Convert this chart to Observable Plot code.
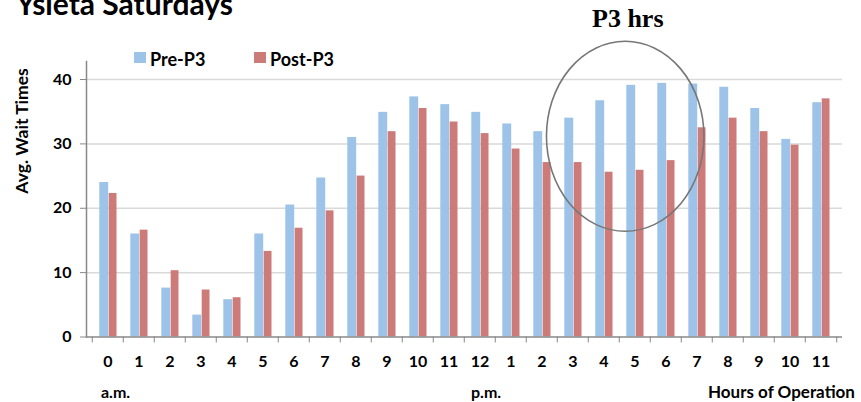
<!DOCTYPE html>
<html>
<head>
<meta charset="utf-8">
<script src="https://cdn.jsdelivr.net/npm/d3@7"></script>
<script src="https://cdn.jsdelivr.net/npm/@observablehq/plot@0.6"></script>
<style>
  body { margin: 0; background: #fff; }
  #wrap { position: relative; width: 861px; height: 402px; overflow: hidden; font-family: Lato, "Open Sans", sans-serif; font-weight: bold; color: #000; }
  #chart { position: absolute; left: 0; top: 0; }
  .lbl { position: absolute; white-space: nowrap; line-height: 1; }
  .sw { position: absolute; width: 12px; height: 11px; }
</style>
</head>
<body>
<div id="wrap">
  <div id="chart"></div>
  <div class="lbl" style="left:16px; top:-12px; font-size:30px;">Ysleta Saturdays</div>
  <div class="sw" id="sw0" style="left:134px; top:52px;"></div>
  <div class="lbl" id="lg0" style="left:150px; top:50px; font-size:18px;"></div>
  <div class="sw" id="sw1" style="left:254px; top:52px;"></div>
  <div class="lbl" id="lg1" style="left:270px; top:50px; font-size:18px;"></div>
  <div class="lbl" style="left:592px; top:6px; font-size:26px; font-family:'Liberation Serif', 'DejaVu Serif', serif;">P3 hrs</div>
  <div class="lbl" style="left:22px; top:131px; font-size:17.5px; transform: translate(-50%,-50%) rotate(-90deg);">Avg. Wait Times</div>
  <div class="lbl" style="left:101px; top:384px; font-size:16px;">a.m.</div>
  <div class="lbl" style="left:471px; top:384px; font-size:16px;">p.m.</div>
  <div class="lbl" style="left:708px; top:383px; font-size:17px;">Hours of Operation</div>
</div>
<script>
const hourLabels = ["0","1","2","3","4","5","6","7","8","9","10","11","12","1","2","3","4","5","6","7","8","9","10","11"];
const preP3  = [24.0,16.0,7.6,3.4,5.8,16.0,20.5,24.7,31.0,34.9,37.3,36.1,34.9,33.1,31.9,34.0,36.7,39.1,39.4,39.3,38.8,35.5,30.7,36.4];
const postP3 = [22.3,16.6,10.3,7.3,6.1,13.3,16.9,19.6,25.0,31.9,35.5,33.4,31.6,29.2,27.1,27.1,25.6,25.9,27.4,32.5,34.0,31.9,29.8,37.0];
const seriesNames = ["Pre-P3", "Post-P3"];
const seriesColors = ["#9dc3e8", "#cc7b78"];
const yTicks = [0, 10, 20, 30, 40];
const yMax = 42.8;
// annotation ellipse around the P3 hours (in data units: hour index, wait time)
const p3Center = {idx: 16.7, value: 31.1};
const p3Radius = {idx: 2.54, value: 14.76};

const idx = d3.range(hourLabels.length);
const pre = idx.map(i => ({idx: i, series: seriesNames[0], value: preP3[i]}));
const post = idx.map(i => ({idx: i, series: seriesNames[1], value: postP3[i]}));

const chart = Plot.plot({
  width: 861,
  height: 402,
  marginLeft: 86,
  marginRight: 19,
  marginTop: 61,
  marginBottom: 65.5,
  style: {fontFamily: "Lato, 'Open Sans', sans-serif", fontWeight: "bold", background: "transparent"},
  x: {domain: idx, padding: 0, axis: null},
  y: {domain: [0, yMax], axis: null},
  color: {domain: seriesNames, range: seriesColors},
  marks: [
    Plot.gridY(yTicks.filter(d => d > 0), {stroke: "#d9d9d9", strokeOpacity: 1, strokeWidth: 1.5}),
    Plot.barY(pre, {x: "idx", y: "value", fill: "series", insetLeft: 7.3, insetRight: 14.8}),
    Plot.barY(post, {x: "idx", y: "value", fill: "series", insetLeft: 16.7, insetRight: 6.5}),
    Plot.axisY({ticks: yTicks, tickSize: 6, tickPadding: 9, stroke: "#888", fill: "#000", fontSize: 16, label: null}),
    Plot.axisX({tickFormat: i => hourLabels[i], tickSize: 0, tickPadding: 19, fill: "#000", fontSize: 16, label: null}),
    Plot.axisX({tickFormat: () => "", tickSize: 6, dx: -15.75, stroke: "#888", label: null}),
    Plot.axisX({ticks: [idx.length - 1], tickFormat: () => "", tickSize: 6, dx: 15.75, stroke: "#888", label: null}),
    Plot.ruleY([0], {stroke: "#888", strokeWidth: 1.5}),
    Plot.frame({anchor: "left", stroke: "#888", strokeWidth: 1.5})
  ]
});
document.getElementById("chart").appendChild(chart);

// ellipse annotation placed through the plot's scales
const xs = chart.scale("x"), ys = chart.scale("y");
const bw = xs.bandwidth;
const base = Math.floor(p3Center.idx);
const cx = xs.apply(base) + (p3Center.idx - base + 0.5) * bw;
const cy = ys.apply(p3Center.value);
const rx = p3Radius.idx * bw;
const ry = ys.apply(0) - ys.apply(p3Radius.value);
d3.select(chart).append("ellipse")
  .attr("cx", cx).attr("cy", cy).attr("rx", rx).attr("ry", ry)
  .attr("fill", "none").attr("stroke", "#777").attr("stroke-width", 1.6);

// legend
seriesNames.forEach((s, i) => {
  document.getElementById("sw" + i).style.background = seriesColors[i];
  document.getElementById("lg" + i).textContent = s;
});
</script>
</body>
</html>
